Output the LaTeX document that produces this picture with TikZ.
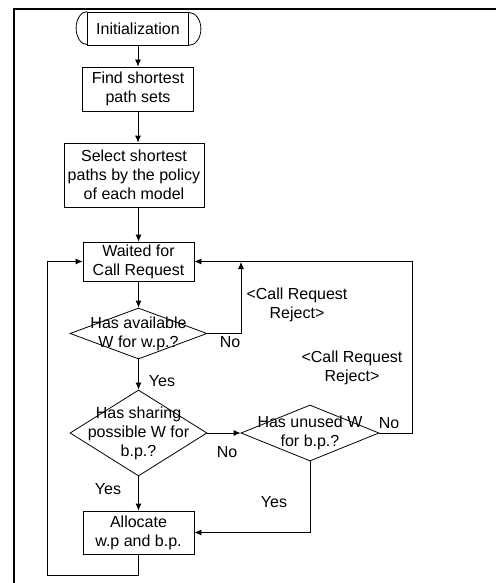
\documentclass[tikz,border=0pt]{standalone}
\usepackage{fontspec}
\setmainfont{Liberation Sans}
\usetikzlibrary{shapes.geometric,arrows.meta}

\begin{document}
\begin{tikzpicture}[x=1pt,y=-1pt,line width=0.8pt,
							every node/.style={font=\fontsize{16}{19}\selectfont,align=center},
							procbox/.style={rectangle,draw,minimum width=111pt,inner sep=1pt},
							decision/.style={diamond,draw,minimum width=137pt,minimum height=51pt,inner sep=0pt},
							flow/.style={-{Latex[length=7pt,width=6pt]}}]
			\useasboundingbox (0,0) rectangle (496,583);
			% frame
			\draw[line width=2.6pt] (496,9) -- (14,9) -- (14,583);
			% main column
			\node[rectangle,draw,minimum width=101pt,minimum height=33pt,inner sep=0pt] (init) at (138,28.5) {Initialization};
			\draw (init.north west) arc (90:270:11pt and 16.5pt);
			\draw (init.south east) arc (-90:90:12pt and 16.5pt);
			\node[procbox,minimum height=44pt] (find) at (138,89) {Find shortest\\path sets};
			\node[procbox,minimum width=140pt,minimum height=64pt] (select) at (134,175) {Select shortest\\paths by the policy\\of each model};
			\node[procbox,minimum height=39pt] (waited) at (138.5,261.5) {Waited for\\Call Request};
			\node[decision,label={[align=center]center:Has available\\W for w.p.?}] (avail) at (138.5,333.5) {};
			\node[decision,minimum height=86pt,label={[align=center]center:Has sharing\\possible W for\\b.p.?}] (sharing) at (138.5,433) {};
			\node[decision,minimum width=138pt,minimum height=56pt,label={[align=center]center:Has unused W\\for b.p.?}] (unused) at (310,433) {};
			\node[procbox,minimum height=43pt] (alloc) at (138.5,532.5) {Allocate\\w.p and b.p.};
			\coordinate (rejtop) at (241,262);
			% connectors
			\draw[flow] (init.south) -- (find.north);
			\draw[flow] (find.south) -- (find.south |- select.north);
			\draw[flow] (select.south -| waited) -- (waited.north);
			\draw[flow] (waited.south) -- (avail.north);
			\draw[flow] (avail.south) -- (sharing.north);
			\draw[flow] (avail.east) -| (rejtop);
			\draw[flow] (sharing.east) -- (unused.west);
			\draw[flow] (unused.east) -- ++(33,0) |- (waited.east);
			\draw[flow] (sharing.south) -- (alloc.north);
			\draw[flow] (unused.south) |- (alloc.east);
			\draw[flow] (alloc.south) -- ++(0,21) -| ([xshift=-35pt]waited.west) -- (waited.west);
			% labels
			\node (no1) at (230,342) {No};
			\node (rej1) at (297,305) {<Call Request\\Reject>};
			\node (yes1) at (162,381) {Yes};
			\node (no2) at (227,452) {No};
			\node (no3) at (389,423) {No};
			\node (rej2) at (352,368) {<Call Request\\Reject>};
			\node (yes2) at (108,489) {Yes};
			\node (yes3) at (274,502) {Yes};
		\end{tikzpicture}
\end{document}
